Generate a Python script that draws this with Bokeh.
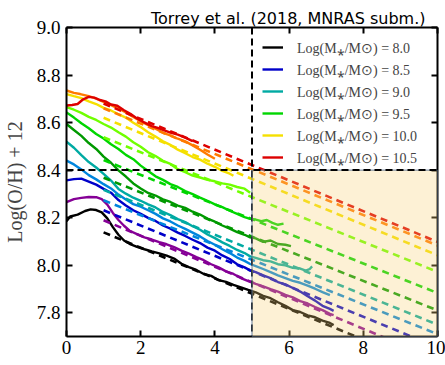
from bokeh.plotting import figure
from bokeh.models import (LinearAxis, FixedTicker, PrintfTickFormatter, Span,
                          BoxAnnotation, Legend, LegendItem, Title)
from bokeh.embed import file_html
from bokeh.resources import INLINE

# Stellar mass bins, log(M*/Msun)
masses = [8.0, 8.25, 8.5, 8.75, 9.0, 9.25, 9.5, 9.75, 10.0, 10.25, 10.5]
colors = ["#000000", "#850096", "#0000C9", "#0085DD", "#00AAA3", "#009900",
          "#00D600", "#70FF00", "#F5E000", "#FF7A00", "#DD0000"]
legend_masses = [8.0, 8.5, 9.0, 9.5, 10.0, 10.5]

# Median metallicity profiles, radius in kpc
r_8p00 = [0, 0.1, 0.3, 0.5, 0.65, 0.8, 0.95, 1.1, 1.25, 1.4, 1.55, 1.7, 1.9, 2.1, 2.3, 2.5, 2.7, 2.9, 3.1,
          3.3, 3.5, 3.7, 3.9, 4.1, 4.3, 4.5, 4.7, 4.9, 5.1, 5.3, 5.5, 5.7, 5.9, 6.1, 6.3, 6.5, 6.7, 6.9, 7.1, 7.2]
z_8p00 = [8.185, 8.205, 8.213, 8.228, 8.235, 8.232, 8.222, 8.197, 8.16, 8.128, 8.104, 8.09, 8.077, 8.067,
          8.058, 8.05, 8.04, 8.028, 8.006, 7.992, 7.98, 7.963, 7.955, 7.937, 7.93, 7.917, 7.907, 7.896,
          7.886, 7.871, 7.861, 7.844, 7.829, 7.811, 7.803, 7.789, 7.781, 7.767, 7.757, 7.748]

r_8p25 = [0, 0.2, 0.4, 0.6, 0.8, 0.95, 1.1, 1.25, 1.4, 1.55, 1.7, 1.9, 2.1, 2.3, 2.5, 2.7, 2.9, 3.1, 3.3,
          3.5, 3.7, 3.9, 4.1, 4.3, 4.5, 4.7, 4.9, 5.1, 5.3, 5.5, 5.7, 5.9, 6.1, 6.3, 6.5, 6.7, 6.9, 7.1, 7.2]
z_8p25 = [8.265, 8.278, 8.283, 8.287, 8.286, 8.278, 8.255, 8.22, 8.19, 8.166, 8.145, 8.131, 8.117, 8.108,
          8.097, 8.088, 8.076, 8.061, 8.049, 8.034, 8.021, 8.004, 7.991, 7.974, 7.963, 7.946, 7.933, 7.921,
          7.911, 7.899, 7.889, 7.875, 7.865, 7.849, 7.839, 7.824, 7.811, 7.795, 7.79]

r_8p50 = [0, 0.2, 0.4, 0.6, 0.8, 1.0, 1.2, 1.4, 1.6, 1.8, 2.0, 2.2, 2.4, 2.6, 2.8, 3.0, 3.2, 3.4, 3.6, 3.8,
          4.0, 4.2, 4.4, 4.6, 4.8, 4.95, 5.1, 5.3, 5.5, 5.7, 5.9, 6.1, 6.3, 6.5, 6.7, 6.9, 7.1, 7.2]
z_8p50 = [8.357, 8.362, 8.364, 8.352, 8.339, 8.321, 8.305, 8.274, 8.251, 8.231, 8.216, 8.199, 8.186, 8.167,
          8.154, 8.137, 8.123, 8.107, 8.093, 8.074, 8.061, 8.041, 8.026, 8.004, 7.991, 7.978, 7.971, 7.957,
          7.946, 7.929, 7.919, 7.904, 7.889, 7.869, 7.851, 7.829, 7.816, 7.808]

r_8p75 = [0, 0.2, 0.4, 0.6, 0.8, 1.0, 1.2, 1.4, 1.6, 1.8, 2.0, 2.2, 2.4, 2.6, 2.8, 3.0, 3.2, 3.4, 3.6, 3.8,
          4.0, 4.2, 4.4, 4.6, 4.8, 4.95, 5.1, 5.3, 5.5, 5.7, 5.9, 6.1, 6.3, 6.5, 6.7, 6.9, 7.1]
z_8p75 = [8.44, 8.424, 8.403, 8.379, 8.361, 8.341, 8.323, 8.297, 8.276, 8.257, 8.246, 8.231, 8.216, 8.197,
          8.184, 8.167, 8.153, 8.137, 8.121, 8.102, 8.086, 8.067, 8.051, 8.032, 8.018, 8.005, 7.996, 7.984,
          7.971, 7.957, 7.946, 7.934, 7.926, 7.914, 7.901, 7.887, 7.874]

r_9p00 = [0, 0.2, 0.4, 0.6, 0.8, 1.0, 1.2, 1.4, 1.6, 1.8, 2.0, 2.2, 2.4, 2.6, 2.8, 3.0, 3.2, 3.4, 3.6, 3.8,
          4.0, 4.2, 4.4, 4.6, 4.8, 4.95, 5.1, 5.3, 5.5, 5.7, 5.9, 6.1, 6.3, 6.45, 6.55, 6.62]
z_9p00 = [8.52, 8.494, 8.463, 8.434, 8.411, 8.384, 8.356, 8.321, 8.301, 8.284, 8.271, 8.256, 8.243, 8.224,
          8.211, 8.194, 8.181, 8.164, 8.149, 8.129, 8.114, 8.096, 8.081, 8.064, 8.051, 8.037, 8.031, 8.021,
          8.016, 8.004, 7.999, 7.989, 7.986, 7.977, 7.983, 7.995]

r_9p25 = [0, 0.2, 0.4, 0.6, 0.8, 1.0, 1.2, 1.4, 1.6, 1.8, 2.0, 2.2, 2.4, 2.6, 2.8, 3.0, 3.2, 3.4, 3.6, 3.8,
          4.0, 4.2, 4.4, 4.6, 4.8, 4.95, 5.1, 5.3, 5.5, 5.7, 5.9, 6.05]
z_9p25 = [8.594, 8.569, 8.544, 8.514, 8.489, 8.457, 8.431, 8.399, 8.373, 8.344, 8.323, 8.304, 8.293, 8.277,
          8.266, 8.251, 8.241, 8.225, 8.213, 8.196, 8.183, 8.167, 8.154, 8.139, 8.128, 8.117, 8.113, 8.098,
          8.104, 8.089, 8.086, 8.08]

r_9p50 = [0, 0.2, 0.4, 0.6, 0.8, 1.0, 1.2, 1.4, 1.6, 1.8, 2.0, 2.2, 2.4, 2.6, 2.8, 3.0, 3.2, 3.4, 3.6, 3.8,
          4.0, 4.2, 4.4, 4.6, 4.8, 4.95, 5.1, 5.25, 5.4, 5.55, 5.7, 5.85]
z_9p50 = [8.643, 8.621, 8.597, 8.576, 8.552, 8.533, 8.509, 8.489, 8.464, 8.446, 8.419, 8.396, 8.374, 8.359,
          8.341, 8.329, 8.312, 8.299, 8.284, 8.271, 8.256, 8.244, 8.229, 8.216, 8.202, 8.195, 8.192, 8.185,
          8.19, 8.178, 8.17, 8.175]

r_9p75 = [0, 0.2, 0.4, 0.6, 0.8, 1.0, 1.2, 1.4, 1.6, 1.8, 2.0, 2.2, 2.4, 2.6, 2.8, 3.0, 3.2, 3.4, 3.6, 3.8,
          4.0, 4.2, 4.4, 4.6, 4.8, 4.95]
z_9p75 = [8.665, 8.654, 8.641, 8.624, 8.611, 8.594, 8.579, 8.559, 8.541, 8.517, 8.498, 8.475, 8.459, 8.439,
          8.426, 8.404, 8.391, 8.377, 8.369, 8.359, 8.353, 8.344, 8.339, 8.329, 8.322, 8.305]

r_10p00 = [0, 0.2, 0.4, 0.6, 0.8, 1.0, 1.2, 1.4, 1.6, 1.8, 2.0, 2.2, 2.4, 2.6, 2.8, 3.0, 3.2, 3.4, 3.6,
           3.8, 4.0, 4.2, 4.4, 4.5]
z_10p00 = [8.72, 8.711, 8.703, 8.689, 8.678, 8.662, 8.651, 8.635, 8.621, 8.599, 8.581, 8.559, 8.541, 8.521,
           8.506, 8.486, 8.471, 8.455, 8.444, 8.427, 8.414, 8.397, 8.385, 8.376]

r_10p25 = [0, 0.2, 0.37, 0.6, 0.8, 1.0, 1.2, 1.4, 1.6, 1.8, 2.0, 2.2, 2.4, 2.6, 2.8, 3.0, 3.2, 3.4, 3.6,
           3.8, 4.0]
z_10p25 = [8.735, 8.725, 8.72, 8.711, 8.701, 8.687, 8.673, 8.659, 8.643, 8.624, 8.606, 8.589, 8.574, 8.557,
           8.546, 8.532, 8.521, 8.504, 8.486, 8.466, 8.448]

r_10p50 = [0, 0.15, 0.3, 0.45, 0.6, 0.75, 0.9, 1.05, 1.2, 1.37, 1.55, 1.72, 1.9, 2.08, 2.3, 2.53, 2.8, 3.0,
           3.2, 3.4]
z_10p50 = [8.672, 8.674, 8.678, 8.698, 8.708, 8.705, 8.695, 8.689, 8.676, 8.671, 8.652, 8.637, 8.617,
           8.602, 8.585, 8.574, 8.558, 8.549, 8.537, 8.522]

radii = [r_8p00, r_8p25, r_8p50, r_8p75, r_9p00, r_9p25, r_9p50, r_9p75, r_10p00, r_10p25, r_10p50]
profiles = [z_8p00, z_8p25, z_8p50, z_8p75, z_9p00, z_9p25, z_9p50, z_9p75, z_10p00, z_10p25, z_10p50]

# Linear gradient fits, evaluated at the ends of the fitted range
fit_r = [1.0, 10.0]
fit_inner = [8.138, 8.189, 8.231, 8.273, 8.317, 8.368, 8.442, 8.538, 8.620, 8.660, 8.680]
fit_outer = [7.558, 7.602, 7.655, 7.710, 7.750, 7.810, 7.883, 7.972, 8.042, 8.083, 8.098]

# Outer-disc region and its bounds
r_cut = 5.0
z_cut = 8.4

x_ticks = [0, 2, 4, 6, 8, 10]
y_ticks = [7.8, 8.0, 8.2, 8.4, 8.6, 8.8, 9.0]

p = figure(width=445, height=365, x_range=(0, 10), y_range=(7.7, 9.0),
           output_backend="svg", toolbar_location=None, title=None,
           min_border_left=66, min_border_right=8, min_border_top=27, min_border_bottom=29,
           x_axis_type=None, y_axis_type=None)
p.grid.visible = False
p.outline_line_color = None
p.background_fill_color = "white"
p.border_fill_color = "white"

serif = "Liberation Serif"


def style_axis(ax, labels=True):
    ax.axis_line_width = 2
    ax.axis_line_color = "black"
    ax.major_tick_in = 6
    ax.major_tick_out = 0
    ax.minor_tick_in = 0
    ax.minor_tick_out = 0
    ax.major_tick_line_width = 2
    ax.major_tick_line_color = "black"
    if labels:
        ax.major_label_text_font = serif
        ax.major_label_text_font_size = "19px"
        ax.major_label_text_color = "black"
    else:
        ax.major_label_text_color = None
        ax.major_label_text_font_size = "1px"
        ax.major_label_standoff = 0


xb = LinearAxis(ticker=FixedTicker(ticks=x_ticks), formatter=PrintfTickFormatter(format="%d"))
style_axis(xb)
xb.major_label_standoff = 4
p.add_layout(xb, "below")

yl = LinearAxis(ticker=FixedTicker(ticks=y_ticks), formatter=PrintfTickFormatter(format="%.1f"))
style_axis(yl)
yl.major_label_standoff = 6
yl.axis_label = "Log(O/H) + 12"
yl.axis_label_text_font = serif
yl.axis_label_text_font_size = "20px"
yl.axis_label_text_font_style = "normal"
yl.axis_label_standoff = 8
p.add_layout(yl, "left")

xt = LinearAxis(ticker=FixedTicker(ticks=x_ticks))
style_axis(xt, labels=False)
p.add_layout(xt, "above")

yr = LinearAxis(ticker=FixedTicker(ticks=y_ticks))
style_axis(yr, labels=False)
p.add_layout(yr, "right")

# Citation above the top right corner of the frame
p.add_layout(Title(text="Torrey et al. (2018, MNRAS subm.)", align="right",
                   text_font="DejaVu Sans", text_font_size="16px", text_font_style="normal",
                   text_color="black", standoff=0, offset=12), "above")

solid_renderers = {}
for m, c, r, z, z0, z1 in zip(masses, colors, radii, profiles, fit_inner, fit_outer):
    solid_renderers[m] = p.line(r, z, line_color=c, line_width=2.4)
    p.line(fit_r, [z0, z1], line_color=c, line_width=2.6, line_dash="7 5")

p.add_layout(Span(location=r_cut, dimension="height", line_color="black",
                  line_width=2, line_dash="7 4"))
p.add_layout(BoxAnnotation(left=r_cut, right=10, bottom=7.7, top=z_cut,
                           fill_color="#F8D073", fill_alpha=0.3,
                           line_color="#5b7393", line_width=1, line_alpha=0.9))
p.add_layout(Span(location=z_cut, dimension="width", line_color="black",
                  line_width=2, line_dash="7 4"))

items = [LegendItem(label="Log(M\u204e/M\u2299) = %.1f" % m, renderers=[solid_renderers[m]])
         for m in legend_masses]
legend = Legend(items=items, location=(196, 169), padding=0, margin=0, spacing=2,
                glyph_width=21, glyph_height=20, label_height=20, label_standoff=14,
                label_text_font=serif, label_text_font_size="14px",
                background_fill_alpha=0, border_line_alpha=0)
p.add_layout(legend, "center")

open("out.html", "w").write(file_html(p, INLINE))
